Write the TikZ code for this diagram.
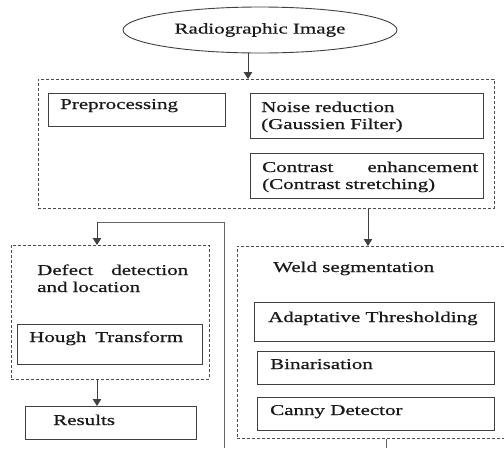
\documentclass[tikz,border=0pt]{standalone}
\usepackage{fontspec}
\setmainfont{Liberation Serif}[FakeStretch=1.4,FakeBold=0.6]
\usetikzlibrary{arrows.meta,shapes.geometric}
\begin{document}
\begin{tikzpicture}[x=1pt,y=-1pt,
  box/.style={draw=black!75, line width=0.9pt, anchor=north west, inner sep=0pt},
  group/.style={draw=black!70, line width=0.8pt, dash pattern=on 3pt off 2pt, anchor=north west, inner sep=0pt},
  lbl/.style={anchor=base west, inner sep=0pt, align=left, text=black!90, font=\fontsize{15}{17}\selectfont},
  arr/.style={draw=black!75, line width=0.9pt, -{Triangle[width=8.5pt,length=7pt]}},
  link/.style={draw=black!60, line width=0.9pt}]
\useasboundingbox (0,0) rectangle (504,448);
\clip (0,0) rectangle (504,448);

% source image
\node[ellipse, draw=black!75, line width=0.9pt, minimum width=274pt, minimum height=46pt,
      text=black!90, font=\fontsize{15}{17}\selectfont] (src) at (260,30) {Radiographic Image};

% preprocessing stage
\node[group, minimum width=456pt, minimum height=129pt] (prep) at (38,79) {};
\node[box, minimum width=177pt, minimum height=33pt] (pre) at (48,93) {};
\node[box, minimum width=233pt, minimum height=45pt] (noise) at (250,93) {};
\node[box, minimum width=233pt, minimum height=45pt] (contrast) at (250,153) {};
\node[lbl] (preT) at (60,109) {Preprocessing};
\node[lbl, text width=216pt] (noiseT) at (261,112) {Noise reduction\\(Gaussien Filter)};
\node[lbl, text width=216pt] (contrastT) at (262,172) {Contrast\hfill enhancement\\(Contrast stretching)};

% defect detection stage
\node[group, minimum width=198pt, minimum height=134pt] (defect) at (11,245) {};
\node[lbl, text width=151pt] (defectT) at (37,275) {Defect\hfill detection\\and location};
\node[box, minimum width=185pt, minimum height=40pt] (hough) at (17,324) {};
\node[lbl, text width=154pt] (houghT) at (29,342) {Hough\hfill Transform};
\node[box, minimum width=171pt, minimum height=33pt] (results) at (25,406) {};
\node[lbl] (resultsT) at (53,425) {Results};

% weld segmentation stage
\node[group, minimum width=280pt, minimum height=192pt] (weld) at (237,246) {};
\node[lbl] (weldT) at (273,272) {Weld segmentation};
\node[box, minimum width=240pt, minimum height=39pt] (adapt) at (254,302) {};
\node[lbl] (adaptT) at (268,322) {Adaptative Thresholding};
\node[box, minimum width=237pt, minimum height=33pt] (binar) at (257,351) {};
\node[lbl] (binarT) at (270,369) {Binarisation};
\node[box, minimum width=237pt, minimum height=33pt] (canny) at (257,397) {};
\node[lbl] (cannyT) at (270,415) {Canny Detector};

% connectors
\coordinate (x1) at (248,0);
\coordinate (x2) at (368,0);
\coordinate (x3) at (97,222);
\coordinate (turn) at (224,222);
\coordinate (loopin) at (224,448);
\coordinate (out) at (386,448);
\draw[arr] (src.south -| x1) -- (prep.north -| x1);
\draw[arr] (prep.south -| x2) -- (weld.north -| x2);
\draw[link] (loopin) -- (turn) -- (x3);
\draw[arr] (x3) -- (defect.north -| x3);
\draw[arr] (defect.south -| x3) -- (results.north -| x3);
\draw[link] (weld.south -| out) -- (out);
\end{tikzpicture}
\end{document}
